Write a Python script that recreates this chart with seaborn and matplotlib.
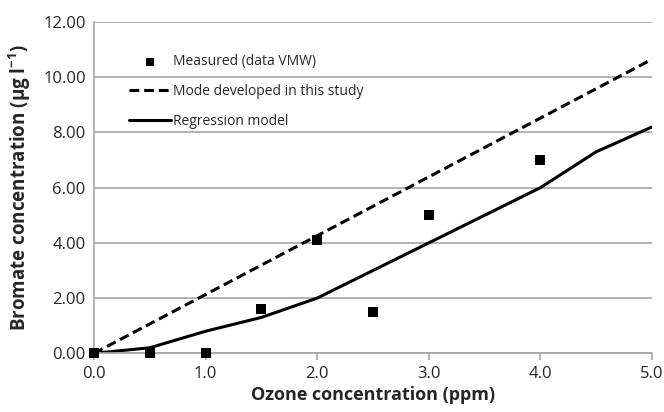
import matplotlib
matplotlib.use("Agg")
import matplotlib.pyplot as plt
import seaborn as sns
import pandas as pd

meas_x = [0.0, 0.5, 1.0, 1.5, 2.0, 2.5, 3.0, 4.0]
meas_y = [0.0, 0.0, 0.0, 1.6, 4.1, 1.5, 5.0, 7.0]
model_x = [0.0, 5.0]
model_y = [0.0, 10.65]
reg_x = [0.0, 0.5, 1.0, 1.5, 2.0, 2.5, 3.0, 3.5, 4.0, 4.5, 5.0]
reg_y = [0.0, 0.2, 0.8, 1.3, 2.0, 3.0, 4.0, 5.0, 6.0, 7.3, 8.2]
x_ticks = [0.0, 1.0, 2.0, 3.0, 4.0, 5.0]
y_ticks = [0, 2, 4, 6, 8, 10, 12]

sns.set_style("white")
plt.rcParams['font.family'] = ['Open Sans', 'DejaVu Sans']

fig = plt.figure(figsize=(6.64, 4.12), dpi=100)
ax = fig.add_axes([0.1416, 0.1425, 0.8404, 0.8041])

sc = sns.scatterplot(x=meas_x, y=meas_y, ax=ax, marker='s', s=58, color='black',
                     edgecolor='black', linewidth=0, label='Measured (data VMW)', zorder=4)
for coll in ax.collections:
    coll.set_clip_on(False)
sns.lineplot(x=model_x, y=model_y, ax=ax, color='black', linewidth=2.2,
             linestyle=(0, (3.2, 1.6)), label='Mode developed in this study')
sns.lineplot(x=reg_x, y=reg_y, ax=ax, color='black', linewidth=2.2,
             label='Regression model')

ax.set_xlim(0, 5)
ax.set_ylim(0, 12)
ax.set_xticks(x_ticks)
ax.set_xticklabels([f"{v:.1f}" for v in x_ticks])
ax.set_yticks(y_ticks)
ax.set_yticklabels([f"{v:.2f}" for v in y_ticks])
ax.yaxis.grid(True, color='#a6a6a6', linewidth=1.2)
ax.xaxis.grid(False)
ax.set_axisbelow(True)

for s in ['top', 'right']:
    ax.spines[s].set_visible(False)
for s in ['left', 'bottom']:
    ax.spines[s].set_color('#a6a6a6')
    ax.spines[s].set_linewidth(1.2)

ax.tick_params(axis='x', which='major', direction='out', length=5, width=1.2,
               color='#a6a6a6', labelsize=12, pad=4, bottom=True)
ax.tick_params(axis='y', which='major', length=0, labelsize=12, pad=6, left=False)

ax.set_xlabel('Ozone concentration (ppm)', fontsize=13, fontweight='bold', labelpad=3)
ax.set_ylabel('Bromate concentration (µg l$^{\\mathregular{-1}}$)', fontsize=13.5,
              fontweight='bold', labelpad=7)

leg = ax.legend(loc='upper left', bbox_to_anchor=(0.04, 0.94), frameon=False,
                fontsize=10, handlelength=3.0, handletextpad=0.2, labelspacing=1.05,
                markerscale=0.85)

fig.savefig('out.png', dpi=100)
